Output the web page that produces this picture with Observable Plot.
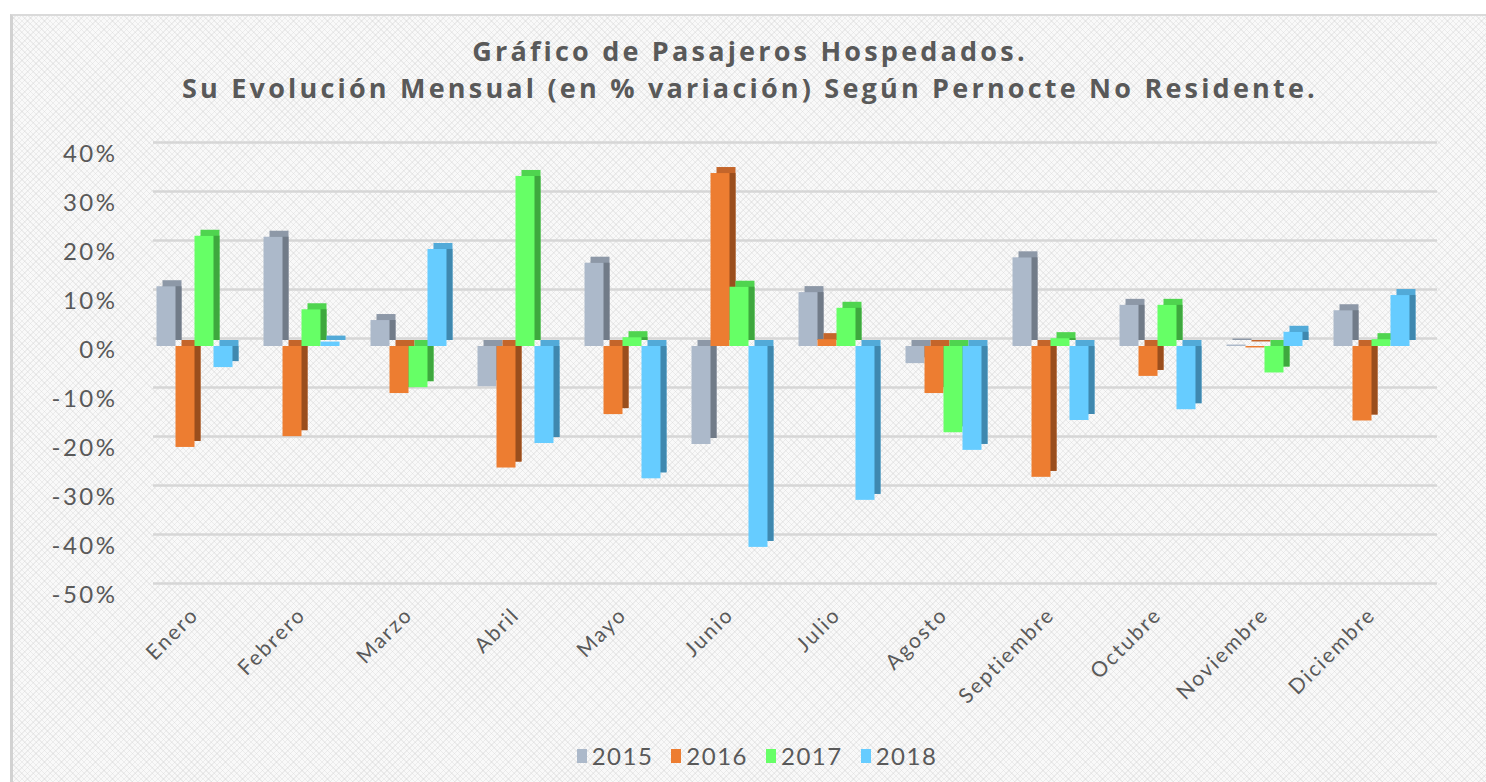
<!DOCTYPE html>
<html>
<head>
<meta charset="utf-8">
<script src="https://cdn.jsdelivr.net/npm/d3@7"></script>
<script src="https://cdn.jsdelivr.net/npm/@observablehq/plot@0.6"></script>
<style>
  html, body { margin: 0; padding: 0; background: #ffffff; }
  #wrap { position: relative; width: 1486px; height: 782px; overflow: hidden; font-family: "Lato", sans-serif; }
  #frame {
    position: absolute; left: 10px; top: 14px; width: 1500px; height: 800px;
    border-left: 3px solid #d2d2d2; border-top: 2px solid #dadada;
    background-color: #f9f9f9;
    background-image:
      repeating-linear-gradient(45deg, rgba(205,205,205,0.3) 0 1px, transparent 1px 4px),
      repeating-linear-gradient(-45deg, rgba(205,205,205,0.3) 0 1px, transparent 1px 4px);
  }
  #title {
    position: absolute; left: 14px; width: 1472px; top: 32px; text-align: center;
    font-family: "Open Sans", sans-serif;
    font-weight: 700; font-size: 27px; line-height: 37px; color: #595959; letter-spacing: 3.2px;
  }
  #chart { position: absolute; left: 0; top: 120px; }
  #chart svg { overflow: visible; }
  #legend {
    position: absolute; top: 741px; left: 14px; width: 1486px; display: flex; justify-content: center;
    font-size: 24px; color: #595959; letter-spacing: 1.5px;
  }
  #legend .item { display: flex; align-items: center; margin: 0 9px; }
  #legend .sw { width: 10px; height: 14px; margin-right: 5px; }
  g[aria-label^="x-axis"] text { letter-spacing: 2px; }
  g[aria-label^="y-axis"] text { letter-spacing: 2.5px; }
</style>
</head>
<body>
<div id="wrap">
  <div id="frame"></div>
  <div id="title">Gráfico de Pasajeros Hospedados.<br>Su Evolución Mensual (en % variación) Según Pernocte No Residente.</div>
  <div id="chart"></div>
  <div id="legend"></div>
</div>
<script>
const months = ["Enero","Febrero","Marzo","Abril","Mayo","Junio","Julio","Agosto","Septiembre","Octubre","Noviembre","Diciembre"];
const years = ["2015","2016","2017","2018"];
const v2015 = [12.2, 22.3, 5.3, -8.2, 17.0, -20.0, 11.0, -3.5, 18.1, 8.4, 0.3, 7.3];
const v2016 = [-20.6, -18.4, -9.6, -24.8, -13.9, 35.3, 1.4, -9.6, -26.7, -6.1, -0.3, -15.2];
const v2017 = [22.5, 7.5, -8.4, 34.7, 1.8, 12.1, 7.8, -17.6, 1.6, 8.4, -5.4, 1.4];
const v2018 = [-4.3, 0.9, 19.8, -19.8, -27.0, -41.0, -31.4, -21.2, -15.1, -12.9, 2.9, 10.4];
const yTicks = [-50, -40, -30, -20, -10, 0, 10, 20, 30, 40];
const frontColors = ["#acb9ca", "#ed7d31", "#66ff66", "#66ccff"];
const topColors   = ["#8d98a7", "#c4652a", "#4fd44f", "#52aad8"];
const sideColors  = ["#717b88", "#9a4e1d", "#3ea83e", "#3f88af"];

const series = [v2015, v2016, v2017, v2018];

// layout
const W = 1486, H = 600, mL = 141, mR = 61, mT = 30, mB = 129;
const pIn = 0.29, pOut = 0.145;
const step = (W - mL - mR) / (months.length - pIn + 2 * pOut);
const bw = step * (1 - pIn);
const bar = bw / years.length;
const D = 6;

const marks = [];
marks.push(Plot.ruleY(yTicks, {stroke: "#d6d6d6", strokeWidth: 2.5, dx: 12, dy: -8}));
years.forEach((yr, i) => {
  const data = months.map((m, j) => ({month: m, year: yr, value: series[i][j]}));
  const inset = {insetLeft: i * bar, insetRight: (years.length - 1 - i) * bar};
  marks.push(Plot.barY(data, {x: "month", y: "value", fill: topColors[i], dx: D, dy: -D, ...inset}));
  marks.push(Plot.barY(data, {x: "month", y: "value", fill: sideColors[i], dx: D, dy: -D, insetTop: D, ...inset}));
  marks.push(Plot.barY(data, {x: "month", y: "value", fill: frontColors[i], ...inset}));
});
marks.push(Plot.axisY(yTicks, {tickFormat: d => d + "%", tickSize: 0, tickPadding: 24, fontSize: 24, dy: 4, label: null}));
marks.push(Plot.axisX({tickRotate: -45, tickSize: 0, tickPadding: 20, fontSize: 21, label: null}));

const chart = Plot.plot({
  width: W, height: H,
  marginLeft: mL, marginRight: mR, marginTop: mT, marginBottom: mB,
  x: {domain: months, paddingInner: pIn, paddingOuter: pOut, round: false},
  y: {domain: [-50, 40]},
  style: {background: "transparent", color: "#595959", fontFamily: "Lato, sans-serif"},
  marks
});
document.getElementById("chart").appendChild(chart);

const legend = document.getElementById("legend");
years.forEach((yr, i) => {
  const it = document.createElement("div");
  it.className = "item";
  it.innerHTML = `<span class="sw" style="background:${frontColors[i]}"></span><span>${yr}</span>`;
  legend.appendChild(it);
});
</script>
</body>
</html>
